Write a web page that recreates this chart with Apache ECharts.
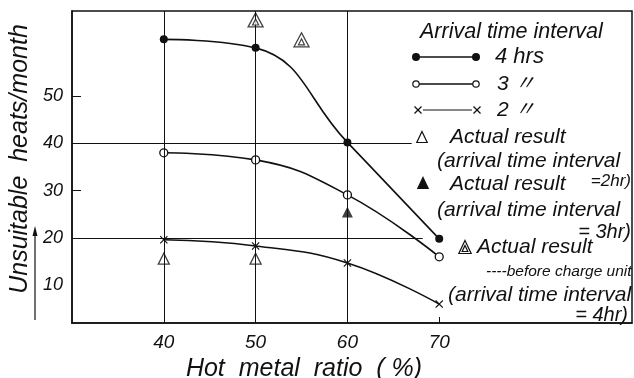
<!DOCTYPE html>
<html>
<head>
<meta charset="utf-8">
<script src="https://cdn.jsdelivr.net/npm/echarts@6/dist/echarts.min.js"></script>
<style>html,body{margin:0;padding:0;background:#fff}#c{width:634px;height:378px}</style>
</head>
<body>
<div id="c"></div>
<script>
// ---- data ----
const hotMetalRatio = [40, 50, 60, 70];
const xTickLabels = [40, 50, 60, 70];
const yTickLabels = [10, 20, 30, 40, 50];
const hrs4 = [62.0, 60.2, 40.2, 19.8];
const hrs3 = [38.0, 36.5, 29.1, 16.0];
const hrs2 = [19.6, 18.3, 14.7, 6.0];
const actual2hr = [[40, 15.6], [50, 15.6]];
const actual3hr = [[60, 25.5]];
const actualBeforeCharge = [[50, 66.1], [55, 61.9]];

const FONT = 'Liberation Sans';
const pair = (xs, ys) => xs.map((x, i) => [x, ys[i]]);
const crossPath = 'path://M0,1L1,0L5,4L9,0L10,1L6,5L10,9L9,10L5,6L1,10L0,9L4,5Z';

const chart = echarts.init(document.getElementById('c'));

function txt(x, y, s, size, align) {
  return { type: 'text', x: x, y: y, style: { text: s, fill: '#111', font: 'italic ' + size + 'px "' + FONT + '", "Noto Sans CJK JP"', textAlign: align || 'left', textVerticalAlign: 'middle' } };
}
function tri(cx, cy, h, fill) {
  const w = h * 0.95;
  return { type: 'polygon', shape: { points: [[cx, cy - h / 2], [cx + w / 2, cy + h / 2], [cx - w / 2, cy + h / 2]] }, style: { fill: fill, stroke: '#111', lineWidth: 1.2 } };
}
function xmark(cx, cy) {
  return [
    { type: 'line', shape: { x1: cx - 3.5, y1: cy - 3.5, x2: cx + 3.5, y2: cy + 3.5 }, style: { stroke: '#111', lineWidth: 1.2 } },
    { type: 'line', shape: { x1: cx + 3.5, y1: cy - 3.5, x2: cx - 3.5, y2: cy + 3.5 }, style: { stroke: '#111', lineWidth: 1.2 } }
  ];
}

const graphics = [
  txt(420, 32, 'Arrival time interval', 21.5),
  { type: 'line', shape: { x1: 416, y1: 57, x2: 476, y2: 57 }, style: { stroke: '#111', lineWidth: 1.5 } },
  { type: 'circle', shape: { cx: 416, cy: 57, r: 4 }, style: { fill: '#111' } },
  { type: 'circle', shape: { cx: 476, cy: 57, r: 4 }, style: { fill: '#111' } },
  txt(495, 57, '4 hrs', 22),
  { type: 'line', shape: { x1: 419, y1: 84, x2: 473, y2: 84 }, style: { stroke: '#111', lineWidth: 1.5 } },
  { type: 'circle', shape: { cx: 416, cy: 84, r: 3.2 }, style: { fill: '#fff', stroke: '#111', lineWidth: 1.2 } },
  { type: 'circle', shape: { cx: 476, cy: 84, r: 3.2 }, style: { fill: '#fff', stroke: '#111', lineWidth: 1.2 } },
  txt(497, 84, '3 〃', 21),
  { type: 'line', shape: { x1: 423, y1: 110, x2: 472, y2: 110 }, style: { stroke: '#111', lineWidth: 1.2 } },
  ...xmark(418, 110), ...xmark(477, 110),
  txt(497, 110, '2 〃', 21),
  tri(422, 137, 11, '#fff'),
  txt(450, 137, 'Actual result', 21),
  txt(437, 161, '(arrival time interval', 21),
  txt(631, 181, '=2hr)', 17, 'right'),
  tri(423, 183, 11, '#111'),
  txt(450, 184, 'Actual result', 21),
  txt(437, 210, '(arrival time interval', 21),
  txt(631, 232, '= 3hr)', 20, 'right'),
  tri(465, 247, 13, '#fff'), tri(465, 248.5, 6, '#fff'),
  txt(477, 247, 'Actual result', 21),
  txt(486, 272, '----before charge unit', 15.5),
  txt(448, 295, '(arrival time interval', 21),
  txt(628, 315, '= 4hr)', 20, 'right'),
  // arrow next to y-axis title
  { type: 'line', shape: { x1: 35, y1: 320, x2: 35, y2: 232 }, style: { stroke: '#111', lineWidth: 1.2 } },
  { type: 'polygon', shape: { points: [[35, 226], [37.5, 236], [32.5, 236]] }, style: { fill: '#111' } }
];

const option = {
  backgroundColor: '#fff',
  animation: false,
  grid: { left: 72, right: 2, top: 11, bottom: 55, show: true, borderColor: '#111', borderWidth: 1.5, outerBoundsMode: 'none', containLabel: false },
  xAxis: {
    type: 'value', min: 30, max: 91,
    name: 'Hot  metal  ratio  ( %)', nameLocation: 'middle', nameGap: 26,
    nameTextStyle: { fontFamily: FONT, fontStyle: 'italic', fontSize: 25, color: '#111', padding: [0, 96, 0, 0] },
    axisLine: { show: true, lineStyle: { color: '#111', width: 1.5 } },
    axisTick: { show: true, inside: true, length: 6, customValues: [70], lineStyle: { color: '#111' } },
    axisLabel: { customValues: xTickLabels, fontFamily: FONT, fontStyle: 'italic', fontSize: 19, color: '#111', margin: 10 },
    splitLine: { show: false }
  },
  yAxis: {
    type: 'value', min: 2, max: 68,
    name: 'Unsuitable  heats/month', nameLocation: 'middle', nameGap: 38, nameRotate: 90,
    nameTextStyle: { fontFamily: FONT, fontStyle: 'italic', fontSize: 25, color: '#111', padding: [0, 0, 0, 16] },
    axisLine: { show: true, lineStyle: { color: '#111', width: 1.5 } },
    axisTick: { show: true, inside: true, length: 9, customValues: [30, 50], lineStyle: { color: '#111' } },
    axisLabel: { customValues: yTickLabels, fontFamily: FONT, fontStyle: 'italic', fontSize: 18, color: '#111', margin: 9 },
    splitLine: { show: false }
  },
  graphic: graphics,
  series: [
    {
      name: '4 hrs', type: 'line', data: pair(hotMetalRatio, hrs4), smooth: 0.45,
      symbol: 'circle', symbolSize: 8, itemStyle: { color: '#111' }, lineStyle: { color: '#111', width: 1.6 },
      z: 3,
      markLine: {
        silent: true, symbol: 'none', label: { show: false },
        lineStyle: { color: '#111', width: 1, type: 'solid' },
        data: [
          [{ coord: [40, 2] }, { coord: [40, 68] }],
          [{ coord: [50, 2] }, { coord: [50, 68] }],
          [{ coord: [60, 2] }, { coord: [60, 68] }],
          [{ coord: [30, 40] }, { coord: [67, 40] }],
          [{ coord: [30, 20] }, { coord: [68.2, 20] }]
        ]
      }
    },
    {
      name: '3 hrs', type: 'line', data: pair(hotMetalRatio, hrs3), smooth: 0.45,
      symbol: 'circle', symbolSize: 8, itemStyle: { color: '#fff', borderColor: '#111', borderWidth: 1.3 },
      lineStyle: { color: '#111', width: 1.6 }, z: 3
    },
    {
      name: '2 hrs', type: 'line', data: pair(hotMetalRatio, hrs2), smooth: 0.45,
      symbol: crossPath, symbolSize: 8, itemStyle: { color: '#111' },
      lineStyle: { color: '#111', width: 1.6 }, z: 3
    },
    {
      name: 'Actual result (2hr)', type: 'scatter', data: actual2hr,
      symbol: 'triangle', symbolSize: [11, 11], itemStyle: { color: '#fff', borderColor: '#111', borderWidth: 1.3 }, z: 4
    },
    {
      name: 'Actual result (3hr)', type: 'scatter', data: actual3hr,
      symbol: 'triangle', symbolSize: [11, 11], itemStyle: { color: '#111' }, z: 4
    },
    {
      name: 'Actual result before charge unit', type: 'scatter', data: actualBeforeCharge,
      symbol: 'triangle', symbolSize: [15, 14], itemStyle: { color: '#fff', borderColor: '#111', borderWidth: 1.3 }, z: 4
    },
    {
      name: 'Actual result before charge unit (inner)', type: 'scatter', data: actualBeforeCharge,
      symbol: 'triangle', symbolSize: [6, 6], symbolOffset: [0, 2], itemStyle: { color: '#fff', borderColor: '#111', borderWidth: 1.2 }, z: 5
    }
  ]
};
chart.setOption(option);
</script>
</body>
</html>
